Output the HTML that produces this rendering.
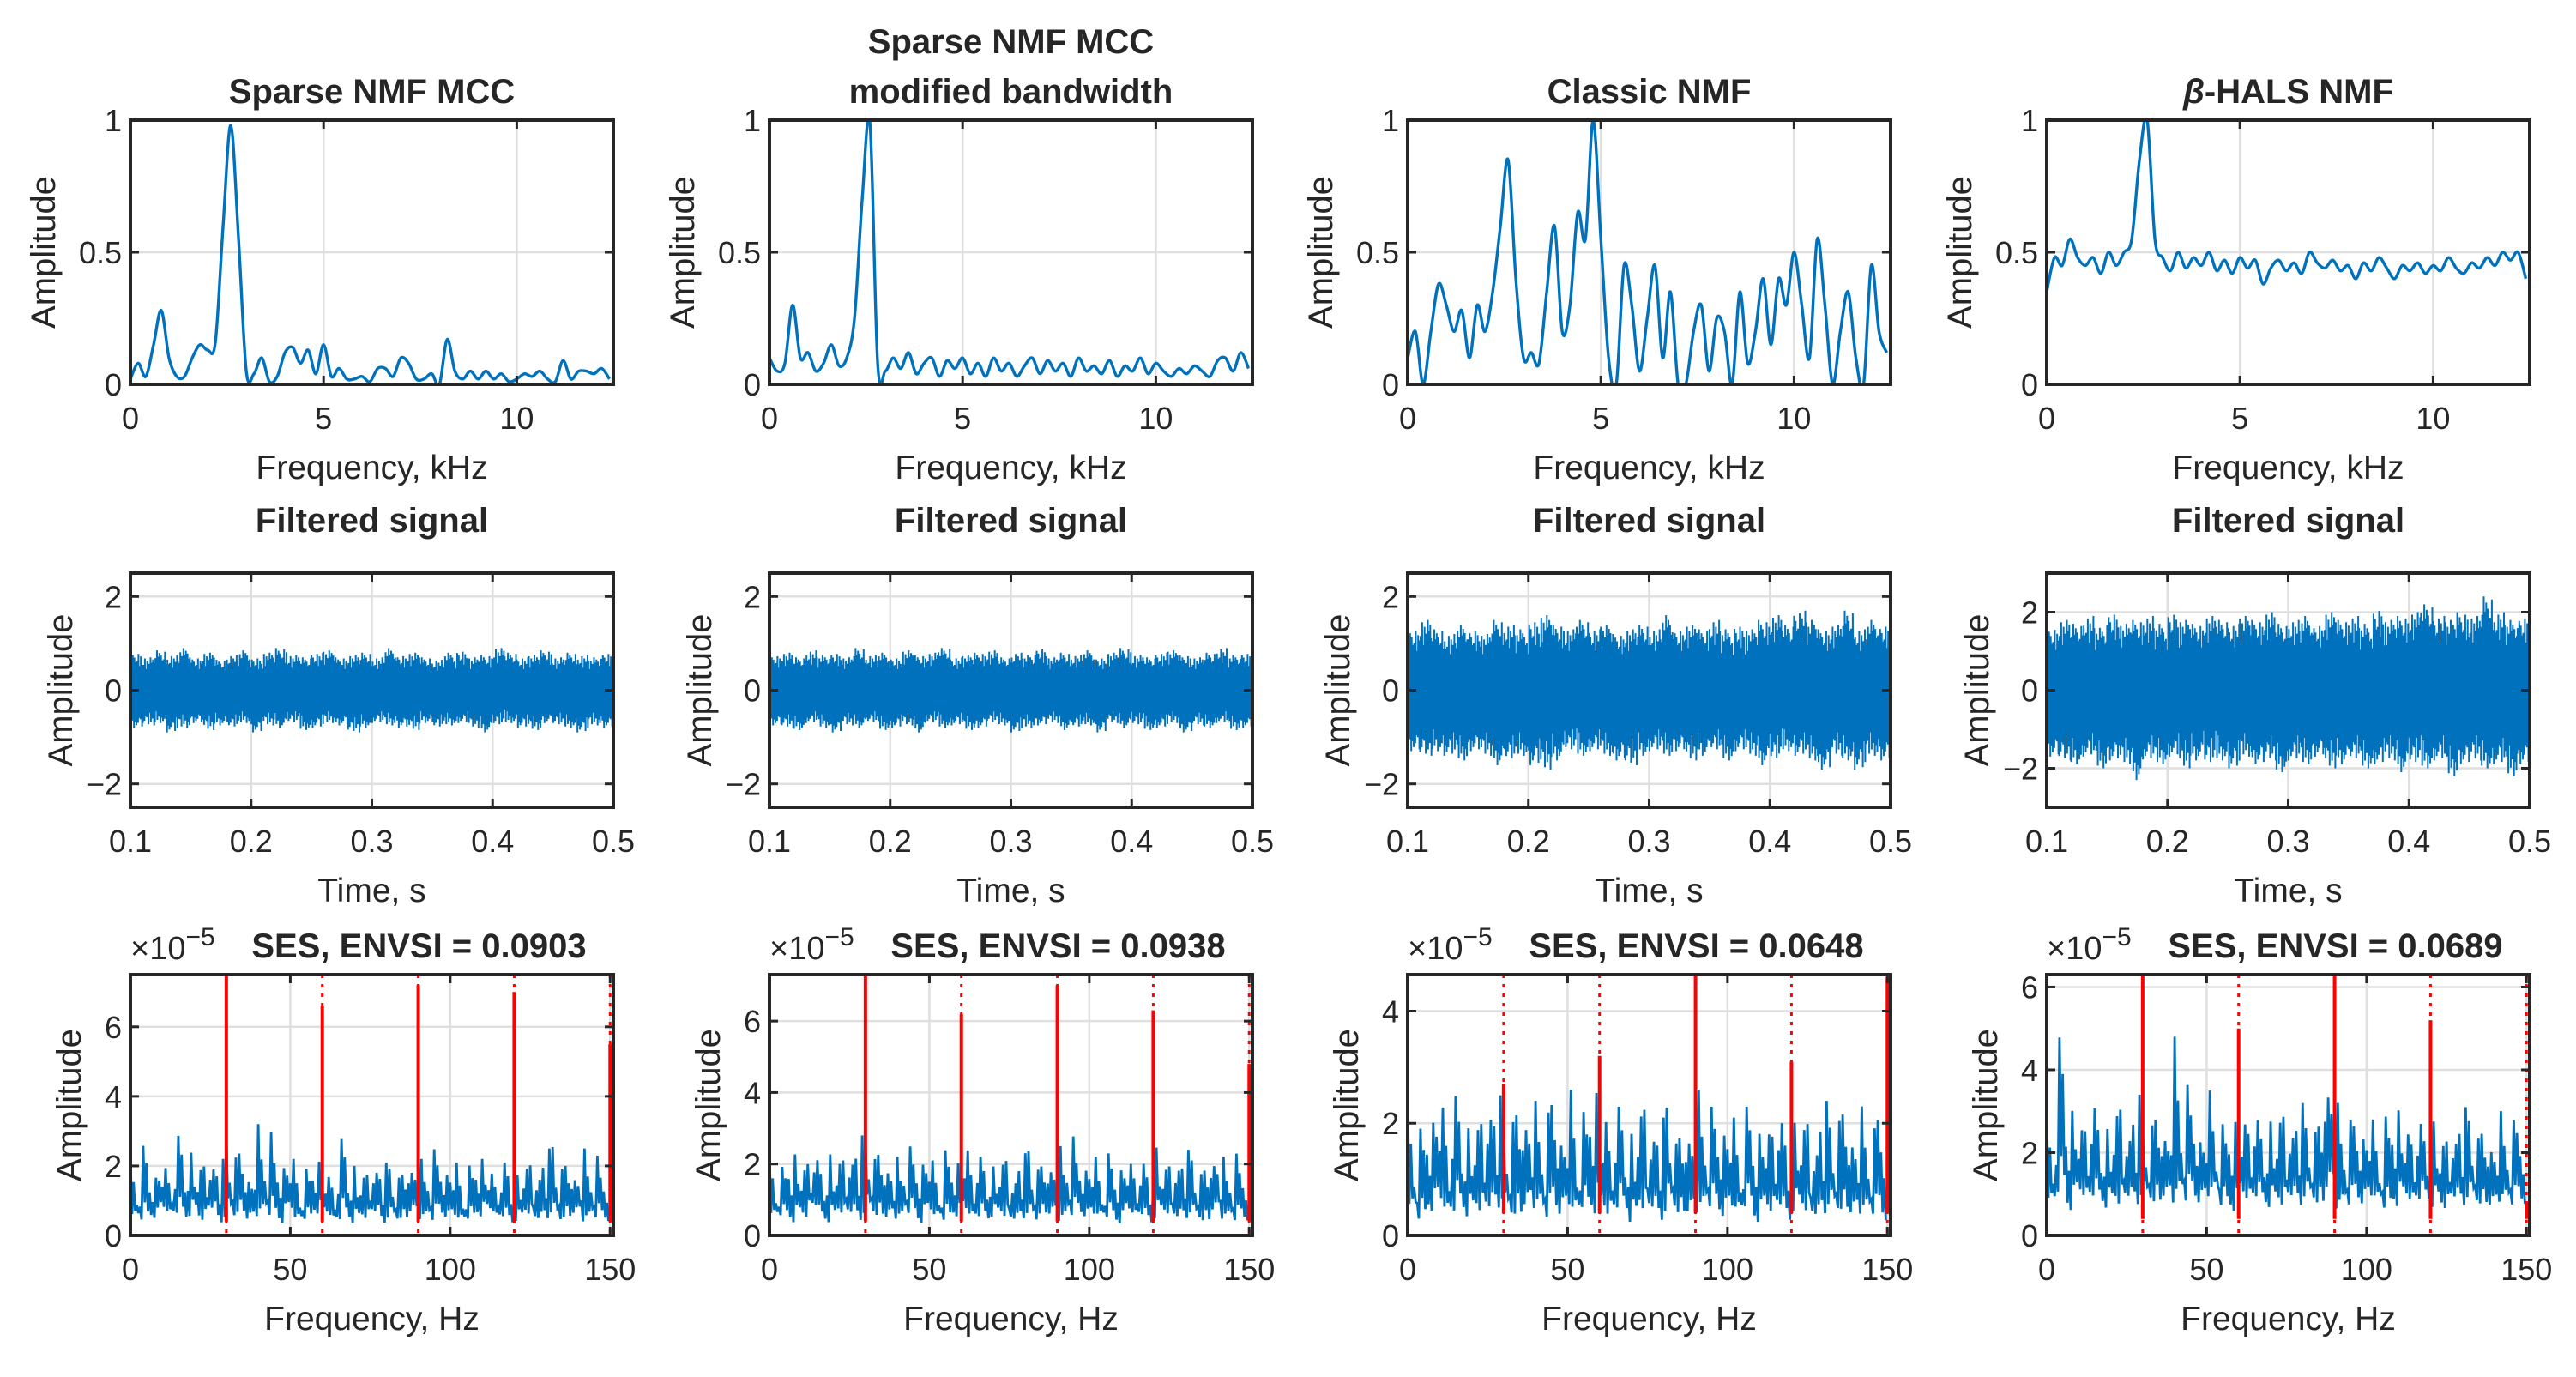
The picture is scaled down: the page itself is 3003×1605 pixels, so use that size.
<!DOCTYPE html>
<html><head><meta charset="utf-8"><style>
html,body{margin:0;padding:0;background:#fff}
svg{display:block}
text{font-family:"Liberation Sans",Arial,sans-serif;fill:#262626}
</style></head><body>
<svg id="fig" width="3003" height="1605" viewBox="0 0 3003 1605" xmlns="http://www.w3.org/2000/svg"></svg>
<script>
// ---- Row 1: spectral profiles (kHz, step 0.2) ----
const specStepKHz = 0.2;
const specSparse = [0.02,0.08,0.03,0.15,0.28,0.1,0.03,0.03,0.1,0.15,0.13,0.16,0.6,0.98,0.55,0.05,0.04,0.1,0.01,0.03,0.12,0.14,0.08,0.13,0.04,0.15,0.03,0.06,0.02,0.02,0.03,0.01,0.06,0.06,0.03,0.1,0.08,0.02,0.02,0.04,0.0,0.17,0.05,0.02,0.05,0.02,0.05,0.02,0.04,0.01,0.02,0.04,0.03,0.05,0.02,0.01,0.09,0.02,0.05,0.05,0.04,0.06,0.02];
const specSparseMod = [0.1,0.05,0.08,0.3,0.1,0.12,0.05,0.08,0.15,0.07,0.1,0.25,0.7,0.99,0.08,0.05,0.1,0.06,0.12,0.04,0.08,0.1,0.03,0.09,0.06,0.1,0.04,0.08,0.03,0.1,0.05,0.08,0.03,0.07,0.1,0.04,0.09,0.05,0.08,0.03,0.1,0.05,0.07,0.04,0.09,0.03,0.07,0.05,0.1,0.04,0.08,0.05,0.03,0.06,0.04,0.07,0.05,0.03,0.09,0.1,0.05,0.12,0.06];
const specClassic = [0.1,0.2,0.0,0.2,0.38,0.3,0.2,0.28,0.1,0.3,0.2,0.35,0.6,0.85,0.4,0.1,0.12,0.08,0.35,0.6,0.2,0.3,0.65,0.55,1.0,0.55,0.1,0.0,0.45,0.3,0.05,0.25,0.45,0.1,0.35,0.0,0.0,0.2,0.3,0.05,0.25,0.2,0.0,0.35,0.08,0.2,0.4,0.15,0.4,0.3,0.5,0.3,0.1,0.55,0.3,0.0,0.2,0.35,0.1,0.0,0.45,0.2,0.12];
const specHals = [0.35,0.48,0.45,0.55,0.48,0.45,0.48,0.42,0.5,0.45,0.5,0.55,0.85,1.0,0.55,0.48,0.43,0.5,0.44,0.48,0.45,0.5,0.43,0.47,0.42,0.48,0.44,0.47,0.38,0.44,0.47,0.43,0.46,0.42,0.5,0.46,0.44,0.47,0.43,0.45,0.4,0.46,0.43,0.48,0.44,0.4,0.45,0.43,0.46,0.42,0.45,0.43,0.48,0.44,0.42,0.46,0.44,0.48,0.45,0.5,0.47,0.5,0.4];
const freqTicksKHz = [0,5,10];
const ampTicks1 = [0,0.5,1];
const ampTickLabels1 = ["0","0.5","1"];

// ---- Row 2: filtered signal envelopes (40 bins over 0.1..0.5 s) ----
const sigHi1 = [0.8,0.7,0.85,0.75,0.9,0.7,0.8,0.65,0.75,0.85,0.7,0.8,0.9,0.75,0.7,0.8,0.85,0.7,0.75,0.8,0.7,0.9,0.75,0.8,0.7,0.65,0.8,0.85,0.7,0.75,0.9,0.8,0.7,0.75,0.85,0.7,0.8,0.75,0.7,0.8];
const sigLo1 = [-0.8,-0.75,-0.7,-0.9,-0.8,-0.7,-0.85,-0.75,-0.8,-0.7,-0.9,-0.75,-0.8,-0.7,-0.85,-0.8,-0.7,-0.75,-0.9,-0.8,-0.7,-0.75,-0.8,-0.85,-0.7,-0.8,-0.75,-0.7,-0.8,-0.9,-0.75,-0.7,-0.8,-0.85,-0.7,-0.75,-0.8,-0.9,-0.75,-0.8];
const sigHi2 = [0.75,0.8,0.7,0.85,0.75,0.8,0.7,0.9,0.75,0.8,0.7,0.85,0.75,0.8,0.9,0.7,0.75,0.8,0.85,0.7,0.8,0.75,0.9,0.7,0.8,0.75,0.85,0.7,0.8,0.9,0.75,0.7,0.8,0.85,0.75,0.7,0.8,0.9,0.75,0.8];
const sigLo2 = [-0.75,-0.8,-0.85,-0.7,-0.8,-0.9,-0.75,-0.8,-0.7,-0.85,-0.8,-0.75,-0.9,-0.7,-0.8,-0.75,-0.85,-0.8,-0.7,-0.75,-0.9,-0.8,-0.75,-0.7,-0.85,-0.8,-0.75,-0.9,-0.7,-0.8,-0.75,-0.85,-0.8,-0.7,-0.9,-0.75,-0.8,-0.7,-0.85,-0.8];
const sigHi3 = [1.3,1.5,1.3,1.2,1.4,1.3,1.2,1.5,1.4,1.3,1.5,1.6,1.4,1.3,1.5,1.3,1.4,1.2,1.3,1.4,1.3,1.6,1.3,1.4,1.3,1.5,1.3,1.4,1.3,1.5,1.6,1.4,1.7,1.5,1.3,1.4,1.7,1.3,1.5,1.4];
const sigLo3 = [-1.3,-1.4,-1.3,-1.4,-1.5,-1.3,-1.4,-1.6,-1.5,-1.4,-1.6,-1.7,-1.5,-1.3,-1.4,-1.3,-1.4,-1.5,-1.6,-1.4,-1.3,-1.4,-1.3,-1.5,-1.4,-1.3,-1.5,-1.3,-1.4,-1.6,-1.5,-1.3,-1.4,-1.5,-1.7,-1.4,-1.5,-1.7,-1.4,-1.5];
const sigHi4 = [1.6,1.8,1.7,1.9,1.6,2.0,1.7,1.8,1.9,1.7,2.0,1.8,1.7,1.9,1.8,1.7,1.9,1.8,2.0,1.7,1.8,1.9,1.7,2.0,1.8,1.9,1.7,2.1,1.8,1.9,2.0,2.2,1.9,1.8,2.0,1.9,2.4,2.0,1.8,1.9];
const sigLo4 = [-1.7,-1.8,-1.9,-1.7,-2.0,-1.8,-1.9,-2.3,-1.8,-1.9,-1.7,-2.0,-1.8,-1.9,-1.8,-2.0,-1.7,-1.9,-1.8,-2.1,-1.8,-1.9,-1.7,-2.0,-1.9,-1.8,-2.0,-1.9,-1.8,-2.1,-1.9,-2.0,-1.8,-2.2,-1.9,-1.8,-2.0,-1.9,-2.2,-1.9];
const timeTicks = [0.1,0.2,0.3,0.4,0.5];
const timeTickLabels = ["0.1","0.2","0.3","0.4","0.5"];
const sigTicks = [-2,0,2];
const sigTickLabels = ["\u22122","0","2"];

// ---- Row 3: squared envelope spectra (50 bins of 3 Hz) ----
const sesHi1 = [2.2,2.7,1.8,2.3,2.1,3.0,2.6,2.3,2.5,2.2,3.0,2.7,2.1,3.2,3.1,2.4,2.6,2.2,2.0,2.3,2.0,2.0,2.9,2.2,2.0,2.4,2.1,2.1,2.0,2.4,2.2,2.6,2.3,2.4,2.1,2.1,2.4,2.1,2.0,2.2,1.9,2.3,2.2,2.5,2.8,2.3,2.1,2.5,2.4,1.9];
const sesLo1 = [0.3,0.2,0.4,0.5,0.4,0.3,0.4,0.2,0.5,0.2,0.3,0.4,0.2,0.3,0.3,0.2,0.4,0.2,0.3,0.5,0.4,0.2,0.3,0.2,0.3,0.4,0.2,0.3,0.3,0.4,0.3,0.2,0.4,0.2,0.2,0.3,0.4,0.5,0.3,0.2,0.3,0.4,0.2,0.3,0.2,0.3,0.4,0.2,0.3,0.3];
const sesHi2 = [2.3,2.0,2.5,2.2,2.8,2.2,2.5,2.4,2.7,2.8,3.0,2.6,2.4,2.2,2.6,2.3,2.7,2.1,2.5,2.2,2.9,2.5,2.3,2.1,2.4,2.0,2.3,2.6,2.2,2.4,2.5,2.9,2.3,2.5,2.2,2.4,2.0,2.4,2.3,2.1,2.7,2.2,2.5,2.4,2.3,2.1,2.6,2.2,2.4,2.0];
const sesLo2 = [0.3,0.4,0.2,0.3,0.5,0.3,0.2,0.4,0.3,0.2,0.4,0.3,0.2,0.3,0.4,0.2,0.3,0.3,0.2,0.4,0.3,0.2,0.3,0.4,0.3,0.2,0.3,0.2,0.4,0.3,0.2,0.3,0.4,0.2,0.3,0.3,0.2,0.4,0.3,0.2,0.3,0.4,0.2,0.3,0.3,0.2,0.4,0.3,0.2,0.3];
const sesHi3 = [2.4,2.0,2.2,2.8,2.4,2.6,2.1,2.3,2.9,2.5,2.2,2.5,2.6,2.4,2.3,2.7,2.2,2.6,2.3,2.8,2.5,2.2,2.4,2.0,2.6,2.3,2.1,2.5,2.0,2.3,2.6,2.4,2.2,2.5,2.1,2.4,2.0,2.2,2.6,2.1,2.2,2.3,2.0,2.4,2.1,2.5,2.2,2.3,2.0,2.4];
const sesLo3 = [0.2,0.1,0.3,0.2,0.1,0.3,0.2,0.2,0.1,0.3,0.2,0.1,0.2,0.3,0.1,0.2,0.2,0.1,0.3,0.2,0.1,0.2,0.3,0.1,0.2,0.2,0.1,0.3,0.2,0.1,0.2,0.3,0.2,0.1,0.2,0.3,0.1,0.2,0.2,0.1,0.3,0.2,0.1,0.2,0.3,0.2,0.1,0.2,0.2,0.1];
const sesHi4 = [3.0,5.0,3.3,3.0,3.6,3.2,2.8,3.5,3.0,3.4,2.8,3.2,3.0,4.8,3.8,3.3,3.0,3.5,2.8,3.0,3.2,3.5,2.9,3.0,3.3,3.1,3.2,2.8,3.0,4.5,3.2,2.9,3.0,3.1,2.8,3.0,3.3,2.9,3.1,2.8,3.0,2.6,2.9,3.1,3.0,2.8,2.7,3.0,2.9,2.8];
const sesLo4 = [0.5,0.6,0.4,0.7,0.5,0.6,0.5,0.4,0.6,0.5,0.7,0.5,0.6,0.4,0.5,0.6,0.5,0.7,0.5,0.4,0.6,0.5,0.6,0.5,0.4,0.6,0.5,0.7,0.5,0.6,0.4,0.5,0.6,0.5,0.6,0.4,0.5,0.6,0.5,0.7,0.5,0.4,0.6,0.5,0.6,0.5,0.4,0.6,0.5,0.6];
const harmonicsHz = [30,60,90,120,150];
const spikes1 = [7.5,6.6,7.2,7.0,5.5];
const spikes2 = [7.3,6.2,7.0,6.3,4.8];
const spikes3 = [2.7,3.2,4.65,3.1,4.6];
const spikes4 = [6.5,5.0,6.3,5.2,0.8];
const sesYmax = [7.5,7.3,4.65,6.3];
const sesTicks1 = [0,2,4,6];
const sesTicks3 = [0,2,4];
const hzTicks = [0,50,100,150];
const envsi = ["0.0903","0.0938","0.0648","0.0689"];

const NS = "http://www.w3.org/2000/svg";
const svg = document.getElementById("fig");
function mk(tag, attrs, parent) {
  const el = document.createElementNS(NS, tag);
  for (const k in attrs) el.setAttribute(k, attrs[k]);
  (parent || svg).appendChild(el);
  return el;
}
const colX = [152, 897, 1641, 2386];
const W = 563;
const rows = [{top:140,h:308},{top:668,h:273},{top:1136,h:304}];
const BLUE = "#0072BD";

function axes(ci, ri, xmin, xmax, ymin, ymax, xticks, xlabels, yticks, ylabels, xlabel, name) {
  const x0 = colX[ci], y0 = rows[ri].top, h = rows[ri].h;
  const sx = v => x0 + (v - xmin) / (xmax - xmin) * W;
  const sy = v => y0 + h - (v - ymin) / (ymax - ymin) * h;
  const g = mk("g", {});
  
  
  xticks.forEach((t, i) => {
    const gl = mk("line", {x1:sx(t), x2:sx(t), y1:y0, y2:y0+h, stroke:"#dfdfdf", "stroke-width":2.5}, g);
    
    
    const tl = mk("text", {x:sx(t), y:y0+h+52, "text-anchor":"middle", "font-size":36}, g);
    tl.textContent = xlabels[i];
    
    
  });
  yticks.forEach((t, i) => {
    const gl = mk("line", {x1:x0, x2:x0+W, y1:sy(t), y2:sy(t), stroke:"#dfdfdf", "stroke-width":2.5}, g);
    
    
    const tl = mk("text", {x:x0-10, y:sy(t)+13, "text-anchor":"end", "font-size":36}, g);
    tl.textContent = ylabels[i];
    
    
  });
  const xl = mk("text", {x:x0+W/2, y:y0+h+110, "text-anchor":"middle", "font-size":39}, g);
  xl.textContent = xlabel;
  
  
  const clip = mk("clipPath", {id:"c"+ci+ri}, g);
  mk("rect", {x:x0, y:y0-1, width:W, height:h+2}, clip);
  const plot = mk("g", {"clip-path":"url(#c"+ci+ri+")"}, g);
  
  
  return {g, plot, sx, sy, x0, y0, h};
}
function frame(a, xticks, yticks) {
  const {g, sx, sy, x0, y0, h} = a;
  xticks.forEach(t => {
    mk("line", {x1:sx(t), x2:sx(t), y1:y0+h, y2:y0+h-10, stroke:"#262626", "stroke-width":3}, g);
    mk("line", {x1:sx(t), x2:sx(t), y1:y0, y2:y0+10, stroke:"#262626", "stroke-width":3}, g);
  });
  yticks.forEach(t => {
    mk("line", {x1:x0, x2:x0+10, y1:sy(t), y2:sy(t), stroke:"#262626", "stroke-width":3}, g);
    mk("line", {x1:x0+W, x2:x0+W-10, y1:sy(t), y2:sy(t), stroke:"#262626", "stroke-width":3}, g);
  });
  const r = mk("rect", {x:x0, y:y0, width:W, height:h, fill:"none", stroke:"#262626", "stroke-width":4}, g);
  
  
}
function ylab(a, dx) {
  const cx = a.x0 - dx, cy = a.y0 + a.h/2;
  const t = mk("text", {x:cx, y:cy, "text-anchor":"middle", "font-size":40, transform:"rotate(-90 "+cx+" "+cy+")"}, a.g);
  t.textContent = "Amplitude";
  
  
}
function title(a, lines, beta, off) {
  lines.forEach((ln, i) => {
    const t = mk("text", {x:a.x0+W/2, y:a.y0 - off - (lines.length-1-i)*58, "text-anchor":"middle", "font-size":40, "font-weight":"bold"}, a.g);
    if (beta) {
      const b = mk("tspan", {"font-style":"italic"}, t); b.textContent = "\u03B2";
      const r = mk("tspan", {}, t); r.textContent = ln;
    } else t.textContent = ln;
    
    
  });
}
const pat = [1,0.45,0.8,0.3,0.95,0.6,0.7,0.35,0.9,0.5,0.65,0.25,0.85,0.55,0.75,0.4,0.6];
function smoothPath(P) {
  let d = "M" + P[0][0].toFixed(1) + "," + P[0][1].toFixed(1);
  for (let i = 0; i < P.length - 1; i++) {
    const p0 = P[Math.max(i-1,0)], p1 = P[i], p2 = P[i+1], p3 = P[Math.min(i+2,P.length-1)];
    const c1x = p1[0] + (p2[0]-p0[0])/6, c1y = p1[1] + (p2[1]-p0[1])/6;
    const c2x = p2[0] - (p3[0]-p1[0])/6, c2y = p2[1] - (p3[1]-p1[1])/6;
    d += " C" + c1x.toFixed(1)+","+c1y.toFixed(1)+" "+c2x.toFixed(1)+","+c2y.toFixed(1)+" "+p2[0].toFixed(1)+","+p2[1].toFixed(1);
  }
  return d;
}

// Row 1
const specs = [specSparse, specSparseMod, specClassic, specHals];
const titles1 = [["Sparse NMF MCC"],["Sparse NMF MCC","modified bandwidth"],["Classic NMF"],["-HALS NMF"]];
specs.forEach((data, ci) => {
  const a = axes(ci, 0, 0, 12.5, 0, 1, freqTicksKHz, freqTicksKHz.map(String), ampTicks1, ampTickLabels1, "Frequency, kHz", "spectrum-axes-"+(ci+1));
  const P = data.map((v, i) => [a.sx(i*specStepKHz), a.sy(v)]);
  const pl = mk("path", {d:smoothPath(P), fill:"none", stroke:BLUE, "stroke-width":3.4, "stroke-linejoin":"round"}, a.plot);
  
  
  frame(a, freqTicksKHz, ampTicks1);
  ylab(a, 88);
  title(a, titles1[ci], ci === 3, 20);
});

// Row 2
const his = [sigHi1, sigHi2, sigHi3, sigHi4], los = [sigLo1, sigLo2, sigLo3, sigLo4];
const sigLim = [2.5, 2.5, 2.5, 3];
his.forEach((hi, ci) => {
  const lo = los[ci], L = sigLim[ci];
  const a = axes(ci, 1, 0.1, 0.5, -L, L, timeTicks, timeTickLabels, sigTicks, sigTickLabels, "Time, s", "signal-axes-"+(ci+1));
  const n = hi.length, per = 30, pts = [];
  for (let b = 0; b < n; b++) for (let k = 0; k < per; k++) {
    const t = 0.1 + 0.4 * (b + k/per) / n;
    const j = (k*7 + b*13);
    const v = (k % 2 === 0) ? hi[b] * (0.35 + 0.65*pat[j % 17]) : lo[b] * (0.35 + 0.65*pat[(j+5) % 17]);
    pts.push(a.sx(t).toFixed(1)+","+a.sy(v).toFixed(1));
  }
  const pl = mk("polyline", {points:pts.join(" "), fill:"none", stroke:BLUE, "stroke-width":2}, a.plot);
  
  
  frame(a, timeTicks, sigTicks);
  ylab(a, 68);
  title(a, ["Filtered signal"], false, 48);
});

// Row 3
const sesHis = [sesHi1, sesHi2, sesHi3, sesHi4], sesLos = [sesLo1, sesLo2, sesLo3, sesLo4];
const spikeSets = [spikes1, spikes2, spikes3, spikes4];
sesHis.forEach((hi, ci) => {
  const lo = sesLos[ci], ymax = sesYmax[ci];
  const yt = ci === 2 ? sesTicks3 : sesTicks1;
  const a = axes(ci, 2, 0, 151, 0, ymax, hzTicks, hzTicks.map(String), yt, yt.map(String), "Frequency, Hz", "ses-axes-"+(ci+1));
  const n = hi.length, per = 6, pts = [];
  for (let b = 0; b < n; b++) for (let k = 0; k < per; k++) {
    const fz = 150 * (b + k/per) / n;
    const j = k*5 + b*11;
    const v = (k % 2 === 0) ? lo[b] + (hi[b] - lo[b]) * pat[j % 17] : lo[b] + (hi[b] - lo[b]) * 0.3 * pat[(j+8)%17];
    pts.push(a.sx(fz).toFixed(1)+","+a.sy(v).toFixed(1));
  }
  const pl = mk("polyline", {points:pts.join(" "), fill:"none", stroke:BLUE, "stroke-width":2.8}, a.plot);
  
  
  harmonicsHz.forEach((hz, i) => {
    const d = mk("line", {x1:a.sx(hz), x2:a.sx(hz), y1:a.y0, y2:a.y0+a.h, stroke:"#ff0000", "stroke-width":3, "stroke-dasharray":"4,7"}, a.plot);
    
    
    const s = mk("line", {x1:a.sx(hz), x2:a.sx(hz), y1:a.sy(0.4), y2:a.sy(spikeSets[ci][i]), stroke:"#ff0000", "stroke-width":4}, a.plot);
    
    
  });
  frame(a, hzTicks, yt);
  ylab(a, 58);
  const ex = mk("text", {x:a.x0, y:a.y0-18, "font-size":38}, a.g);
  ex.textContent = "\u00D710";
  const sup = mk("tspan", {dy:-16, "font-size":30}, ex); sup.textContent = "\u22125";
  
  
  const t = mk("text", {x:a.x0+W/2+55, y:a.y0-20, "text-anchor":"middle", "font-size":40, "font-weight":"bold"}, a.g);
  t.textContent = "SES, ENVSI = " + envsi[ci];
  
  
});
</script>
</body></html>
